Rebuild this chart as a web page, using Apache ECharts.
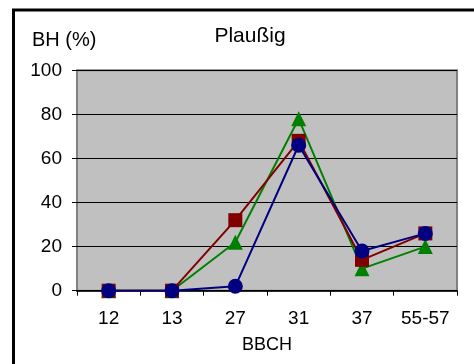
<!DOCTYPE html>
<html><head><meta charset="utf-8">
<script src="https://cdn.jsdelivr.net/npm/echarts@6/dist/echarts.min.js"></script>
<style>html,body{margin:0;padding:0;background:#fff}#c{width:474px;height:364px}</style>
</head><body><div id="c"></div>
<script>
const categories = ['12','13','27','31','37','55-57'];
const redSquares = [0, 0, 32, 68, 14, 26];
const greenTriangles = [0, 0, 22, 78, 10, 20];
const blueCircles = [0, 0, 2, 66, 18, 26];
const yTicks = [0, 20, 40, 60, 80, 100];

const chart = echarts.init(document.getElementById('c'), null, {renderer:'canvas'});
const font = 'Arial, "Liberation Sans", sans-serif';
function ser(name, data, color, symbol, size) {
  return {name, type:'line', data, symbol, symbolSize:size, showAllSymbol:true,
    lineStyle:{color, width:2}, itemStyle:{color, opacity:1}, z:3, animation:false};
}
chart.setOption({
  animation:false,
  graphic:[
    {type:'rect', shape:{x:13.5, y:10, width:700, height:500}, style:{fill:'none', stroke:'#000', lineWidth:3}, z:-1},
    {type:'text', x:32, y:40, style:{text:'BH (%)', font:'20px ' + font, fill:'#000', verticalAlign:'middle'}},
    {type:'text', x:250, y:36, style:{text:'Plaußig', font:'21px ' + font, fill:'#000', align:'center', verticalAlign:'middle'}}
  ],
  grid:{left:77, right:17, top:70.3, bottom:364-290.7, show:true, backgroundColor:'#C0C0C0', borderColor:'#808080', borderWidth:2},
  xAxis:{type:'category', data:categories, boundaryGap:true,
    name:'BBCH', nameLocation:'middle', nameGap:45,
    nameTextStyle:{fontSize:18, color:'#000', fontFamily:font},
    axisLine:{onZero:false, lineStyle:{color:'#000', width:1.5}},
    axisTick:{show:true, length:5, inside:false, lineStyle:{color:'#000'}},
    axisLabel:{fontSize:19, color:'#000', fontFamily:font, margin:19}},
  yAxis:{type:'value', min:0, max:100, interval:20,
    axisLine:{show:false},
    axisTick:{show:true, length:5, lineStyle:{color:'#000'}},
    splitLine:{show:true, lineStyle:{color:'#000', width:1}},
    axisLabel:{fontSize:19, color:'#000', fontFamily:font, margin:15,
      formatter:v => yTicks.includes(v) ? String(v) : ''}},
  series:[
    ser('green', greenTriangles, '#008000', 'triangle', 15),
    ser('red', redSquares, '#800000', 'rect', 14),
    ser('blue', blueCircles, '#000080', 'circle', 15)
  ]
});
</script></body></html>
